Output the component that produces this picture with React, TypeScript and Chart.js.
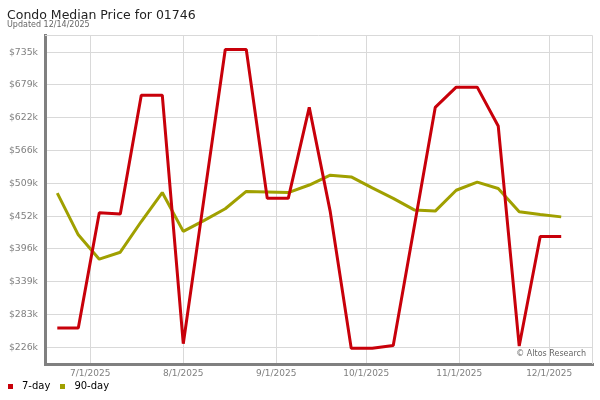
import { Chart, registerables } from "chart.js";
import { useEffect, useRef } from "react";

Chart.register(...registerables);

// weekly sample dates
const dates = [
  "2025-06-20", "2025-06-27", "2025-07-04", "2025-07-11", "2025-07-18",
  "2025-07-25", "2025-08-01", "2025-08-08", "2025-08-15", "2025-08-22",
  "2025-08-29", "2025-09-05", "2025-09-12", "2025-09-19", "2025-09-26",
  "2025-10-03", "2025-10-10", "2025-10-17", "2025-10-24", "2025-10-31",
  "2025-11-07", "2025-11-14", "2025-11-21", "2025-11-28", "2025-12-05",
];

// median price, thousands of dollars
const sevenDay = [
  259, 259, 458, 456, 661, 661, 232, 486, 740, 740, 483, 483, 640,
  460, 224, 224, 229, 434, 640, 675, 675, 608, 228, 417, 417,
];
const ninetyDay = [
  492, 420, 378, 390, 443, 493, 426, 445, 465, 495, 494, 493, 506,
  523, 520, 501, 483, 463, 461, 497, 511, 500, 460, 455, 451,
];

const seriesLabels = ["7-day", "90-day"];
const seriesColors = ["#c8000a", "#a0a000"];

const yTicks = [226, 283, 339, 396, 452, 509, 566, 622, 679, 735];
const xTickDates = ["2025-07-01", "2025-08-01", "2025-09-01", "2025-10-01", "2025-11-01", "2025-12-01"];
const xTickLabels = ["7/1/2025", "8/1/2025", "9/1/2025", "10/1/2025", "11/1/2025", "12/1/2025"];

const FONT = "'DejaVu Sans', sans-serif";

// days since 6/1/2025 so a plain linear scale can be used (no date adapter)
const dayOf = (s: string) => (Date.parse(s) - Date.parse("2025-06-01")) / 86400000;

// light border round the plot area
const frame = {
  id: "frame",
  beforeDatasetsDraw(chart: Chart) {
    const { ctx, chartArea } = chart;
    ctx.save();
    ctx.strokeStyle = "#d9d9d9";
    ctx.lineWidth = 1;
    ctx.beginPath();
    ctx.moveTo(chartArea.left, chartArea.top + 0.5);
    ctx.lineTo(chartArea.right - 0.5, chartArea.top + 0.5);
    ctx.lineTo(chartArea.right - 0.5, chartArea.bottom);
    ctx.stroke();
    ctx.restore();
  },
};

export default function App() {
  const canvasRef = useRef<HTMLCanvasElement | null>(null);

  useEffect(() => {
    const ctx = canvasRef.current?.getContext("2d");
    if (!ctx) return;

    const series = [sevenDay, ninetyDay];
    const chart = new Chart(ctx, {
      type: "line",
      data: {
        datasets: series.map((vals, i) => ({
          label: seriesLabels[i],
          data: vals.map((v, j) => ({ x: dayOf(dates[j]), y: v })),
          borderColor: seriesColors[i],
          backgroundColor: seriesColors[i],
          borderWidth: 3,
          borderJoinStyle: "bevel" as const,
          pointRadius: 0,
          tension: 0,
          fill: false,
        })),
      },
      options: {
        animation: false,
        responsive: false,
        layout: { padding: { top: 35, right: 7, bottom: 16, left: 0 } },
        plugins: {
          legend: { display: false },
          tooltip: { enabled: false },
        },
        scales: {
          x: {
            type: "linear",
            min: 14.9,
            max: 197.6,
            afterBuildTicks: (scale: any) => {
              scale.ticks = xTickDates.map((d) => ({ value: dayOf(d) }));
            },
            afterFit: (scale: any) => {
              scale.height = 20;
            },
            grid: { color: "#d9d9d9", drawTicks: false },
            border: { display: true, color: "#808080", width: 3 },
            ticks: {
              padding: 4,
              color: "#808080",
              font: { family: FONT, size: 9 },
              maxRotation: 0,
              autoSkip: false,
              callback: (v: any) => xTickLabels[xTickDates.findIndex((d) => dayOf(d) === v)],
            },
          },
          y: {
            min: 197,
            max: 765,
            afterBuildTicks: (scale: any) => {
              scale.ticks = yTicks.map((v) => ({ value: v }));
            },
            afterFit: (scale: any) => {
              scale.width = 45;
            },
            grid: { color: "#d9d9d9", drawTicks: false },
            border: { display: true, color: "#808080", width: 3 },
            ticks: {
              padding: 7,
              color: "#808080",
              font: { family: FONT, size: 9.3 },
              callback: (v: any) => "$" + v + "k",
            },
          },
        },
      },
      plugins: [frame],
    });

    return () => chart.destroy();
  }, []);

  return (
    <div style={{ position: "absolute", left: 0, top: 0, width: 600, height: 400, background: "#fff", fontFamily: FONT }}>
      <canvas ref={canvasRef} width={600} height={400} style={{ display: "block" }} />
      <div style={{ position: "absolute", left: 7, top: 6.5, fontSize: 12.5, lineHeight: "15px", color: "#222", whiteSpace: "nowrap" }}>
        Condo Median Price for 01746
      </div>
      <div style={{ position: "absolute", left: 7, top: 20, fontSize: 8, lineHeight: "10px", color: "#666", whiteSpace: "nowrap" }}>
        Updated 12/14/2025
      </div>
      <div style={{ position: "absolute", right: 14, top: 349, fontSize: 8, lineHeight: "10px", color: "#666", whiteSpace: "nowrap" }}>
        © Altos Research
      </div>
      <div style={{ position: "absolute", left: 8, top: 380, display: "flex", alignItems: "center", fontSize: 10, lineHeight: "12px", color: "#000" }}>
        {seriesLabels.map((lab, i) => (
          <span key={lab} style={{ display: "flex", alignItems: "center", marginRight: 10 }}>
            <span style={{ display: "inline-block", width: 5, height: 5, background: seriesColors[i], marginRight: 9 }} />
            {lab}
          </span>
        ))}
      </div>
    </div>
  );
}
